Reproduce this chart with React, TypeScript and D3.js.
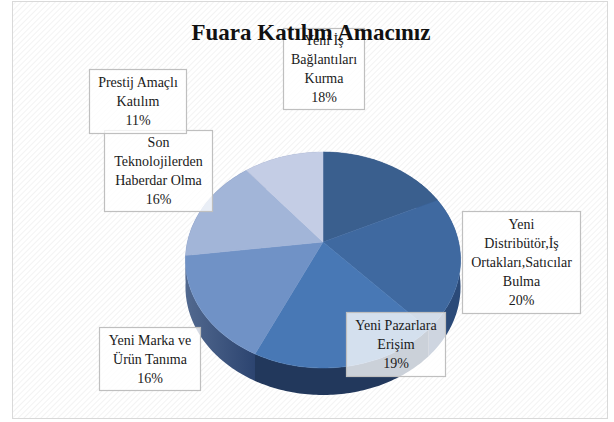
import React from "react";
import * as d3 from "d3";

const categories = [
  "Yeni İş Bağlantıları Kurma",
  "Yeni Distribütör,İş Ortakları,Satıcılar Bulma",
  "Yeni Pazarlara Erişim",
  "Yeni Marka ve Ürün Tanıma",
  "Son Teknolojilerden Haberdar Olma",
  "Prestij Amaçlı Katılım",
];
const values = [18, 20, 19, 16, 16, 11];
const labelLines = [
  ["Yeni İş", "Bağlantıları", "Kurma"],
  ["Yeni", "Distribütör,İş", "Ortakları,Satıcılar", "Bulma"],
  ["Yeni Pazarlara", "Erişim"],
  ["Yeni Marka ve", "Ürün Tanıma"],
  ["Son", "Teknolojilerden", "Haberdar Olma"],
  ["Prestij Amaçlı", "Katılım"],
];
const topColors = ["#3a5f8e", "#3f69a0", "#4878b5", "#7092c6", "#a2b5d8", "#c4cde5"];
const wallColors = ["#2a4670", "#2b4a78", "#22385c", "url(#wallMarka)", "#5d7299", "#8090b0"];
const title = "Fuara Katılım Amacınız";

// label box geometry: [x, y, w, h]
const boxes = [
  [283, 28, 81, 81],
  [462, 211, 118, 102],
  [346, 312, 99, 64],
  [99, 327, 101, 63],
  [104, 130, 108, 81],
  [89, 69, 97, 64],
];

const W = 614;
const H = 422;
const cx = 323;
const cy0 = 242;
const A = 135.6;
const B = 105;
const p = 1 / 6;
const depth = 27;
const FONT = "'Liberation Serif', 'Times New Roman', 'DejaVu Serif', serif";

function proj(theta: number, dy = 0): [number, number] {
  const u = Math.sin(theta);
  const v = -Math.cos(theta);
  const k = 1 - p * v;
  return [cx + (A * u) / k, cy0 + (B * v) / k + dy];
}

function arcPts(a0: number, a1: number, dy = 0): [number, number][] {
  const n = Math.max(2, Math.ceil(((a1 - a0) * 180) / Math.PI));
  const pts: [number, number][] = [];
  for (let i = 0; i <= n; i++) pts.push(proj(a0 + ((a1 - a0) * i) / n, dy));
  return pts;
}

export default function App() {
  const pie = d3.pie<number>().sort(null).value((d) => d);
  const arcs = pie(values);
  const line = d3.line();

  return (
    <svg width={W} height={H} style={{ position: "absolute", left: 0, top: 0 }} fontFamily={FONT}>
      <defs>
        <pattern id="hatch" width="4" height="4" patternUnits="userSpaceOnUse" patternTransform="rotate(45)">
          <rect width="4" height="4" fill="#ffffff" />
          <line x1="0" y1="0" x2="0" y2="4" stroke="#ececec" strokeWidth="1.2" />
        </pattern>
        <linearGradient id="wallMarka" x1="0" y1="0" x2="1" y2="0">
          <stop offset="0" stopColor="#52698f" />
          <stop offset="1" stopColor="#2c4470" />
        </linearGradient>
      </defs>
      <rect x={0} y={0} width={W} height={H} fill="#ffffff" />
      <rect x={12.5} y={1.5} width={595} height={417} fill="url(#hatch)" stroke="#d9d9d9" strokeWidth={1} />

      {/* side walls */}
      {arcs.map((a, i) => {
        const top = arcPts(a.startAngle, a.endAngle);
        const bot = arcPts(a.startAngle, a.endAngle, depth).reverse();
        return <path key={"w" + i} d={line([...top, ...bot]) + "Z"} fill={wallColors[i]} />;
      })}
      {/* top faces */}
      {arcs.map((a, i) => {
        const pts = [[cx, cy0] as [number, number], ...arcPts(a.startAngle, a.endAngle)];
        return (
          <path key={"t" + i} d={line(pts) + "Z"} fill={topColors[i]} stroke={topColors[i]} strokeWidth={0.5}>
            <title>{categories[i]}</title>
          </path>
        );
      })}

      {/* labels */}
      {arcs.map((a, i) => {
        const [bx, by, bw, bh] = boxes[i];
        const lines = [...labelLines[i], `${values[i]}%`];
        const lh = 19;
        const startY = by + bh / 2 - ((lines.length - 1) * lh) / 2 + 5;
        return (
          <g key={"l" + i}>
            <rect x={bx + 0.5} y={by + 0.5} width={bw} height={bh} fill="#ffffff" fillOpacity={0.77} stroke="#bfbfbf" strokeWidth={1.2} />
            {lines.map((t, j) => (
              <text key={j} x={bx + bw / 2 + 0.5} y={startY + j * lh} textAnchor="middle" fontSize={14} fill="#1a1a1a" fontFamily={FONT}>
                {t}
              </text>
            ))}
          </g>
        );
      })}

      <text x={311} y={40} textAnchor="middle" fontSize={23} fontWeight="bold" fill="#111111" fontFamily={FONT}>
        {title}
      </text>
    </svg>
  );
}
